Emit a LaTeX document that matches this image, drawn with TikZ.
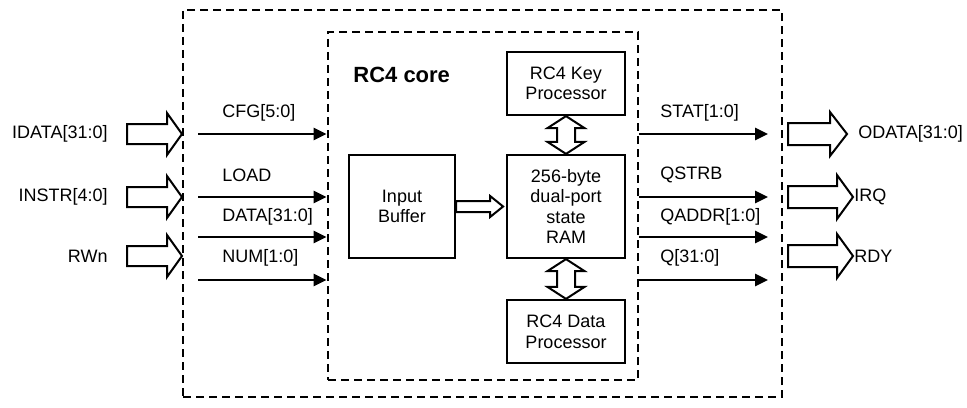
\documentclass[tikz,border=0pt]{standalone}
\usepackage{fontspec}
\setmainfont{Liberation Sans}
\usetikzlibrary{arrows.meta,calc}
% hollow horizontal bus arrow: #1 tail point, #2 length, #3 shaft half-width,
% #4 head half-width, #5 head length
\newcommand\drawbus[5]{%
  \draw[busline] ($#1+(0,-#3)$) -- ++(#2-#5,0) -- ++(0,#3-#4) -- ($#1+(#2,0)$)
    -- ($#1+(#2-#5,#4)$) -- ++(0,#3-#4) -- ($#1+(0,#3)$) -- cycle;}
% hollow vertical two-way bus between two points #1 (top) and #2 (bottom)
\newcommand\drawlink[2]{%
  \draw[busline] #1 -- ($#1+(-18.5,12)$) -- ($#1+(-9,12)$) -- ($#2+(-9,-12)$)
    -- ($#2+(-18.5,-12)$) -- #2 -- ($#2+(18.5,-12)$) -- ($#2+(9,-12)$)
    -- ($#1+(9,12)$) -- ($#1+(18.5,12)$) -- cycle;}
\begin{document}
\begin{tikzpicture}[x=0.5pt,y=-0.5pt,
  lbl/.style={font=\fontsize{9}{10}\selectfont, inner sep=0pt},
  blk/.style={draw, line width=1.1pt, inner sep=0pt, align=center,
              font=\fontsize{9}{10.3}\selectfont},
  frame/.style={draw, line width=1.4pt, dash pattern=on 4.2pt off 2.3pt, inner sep=0pt},
  sig/.style={line width=1.3pt, -{Triangle[length=6.5pt,width=6pt]}},
  busline/.style={line width=1pt, line join=miter}]
\useasboundingbox (0,0) rectangle (967,407);

% enclosing chip boundary and the core
\node[frame, minimum width=299.5pt, minimum height=193.5pt] (chip) at (482.5,203.5) {};
\node[frame, minimum width=155pt, minimum height=174pt] (core) at (483,206) {};
\node[font=\bfseries\fontsize{11}{12}\selectfont, anchor=west, inner sep=0pt] (corelbl) at (353,75) {RC4 core};

% blocks inside the core
\node[blk, minimum width=59pt, minimum height=31.5pt] (key) at (566,83.5) {RC4 Key\\Processor};
\node[blk, minimum width=59pt, minimum height=51.5pt] (ram) at (566,206.5) {256-byte\\dual-port\\state\\RAM};
\node[blk, minimum width=59pt, minimum height=31.5pt] (dat) at (566,331.5) {RC4 Data\\Processor};
\node[blk, minimum width=53pt, minimum height=51.5pt] (buf) at (402,206.5) {Input\\Buffer};

% wide data paths between blocks
\drawlink{(key.south)}{(ram.north)}
\drawlink{(ram.south)}{(dat.north)}
\drawbus{(buf.east)}{47}{5.5}{10.5}{13}

% external buses entering the chip
\coordinate (idata) at (127,134);
\coordinate (instr) at (127,197);
\coordinate (rwn) at (127,256);
\foreach \c in {idata,instr,rwn} {\drawbus{(\c)}{55}{10}{21}{15}}
\node[lbl, anchor=east] (lidata) at (108,134) {IDATA[31:0]};
\node[lbl, anchor=east] (linstr) at (108,197) {INSTR[4:0]};
\node[lbl, anchor=east] (lrwn) at (108,256) {RWn};

% external buses leaving the chip
\coordinate (odata) at (788,134);
\coordinate (irq) at (788,197);
\coordinate (rdy) at (788,256);
\drawbus{(odata)}{59}{11}{22}{17}
\drawbus{(irq)}{65}{11}{22}{16}
\drawbus{(rdy)}{65}{11}{22}{16}
\node[lbl, anchor=west] (lodata) at (858,134) {ODATA[31:0]};
\node[lbl, anchor=west] (lirq) at (854,197) {IRQ};
\node[lbl, anchor=west] (lrdy) at (854,256) {RDY};

% core inputs
\coordinate (i1) at (198,134);
\coordinate (i2) at (198,197);
\coordinate (i3) at (198,237);
\coordinate (i4) at (198,280);
\foreach \c in {i1,i2,i3,i4} \draw[sig] (\c) -- (core.west |- \c);
\node[lbl, anchor=west] (lcfg) at (222,113) {CFG[5:0]};
\node[lbl, anchor=west] (lload) at (222,175) {LOAD};
\node[lbl, anchor=west] (ldata) at (222,217) {DATA[31:0]};
\node[lbl, anchor=west] (lnum) at (222,258) {NUM[1:0]};

% core outputs
\coordinate (o1) at (768,134);
\coordinate (o2) at (768,197);
\coordinate (o3) at (768,237);
\coordinate (o4) at (768,280);
\foreach \c in {o1,o2,o3,o4} \draw[sig] (core.east |- \c) -- (\c);
\node[lbl, anchor=west] (lstat) at (660,113) {STAT[1:0]};
\node[lbl, anchor=west] (lqstrb) at (660,175) {QSTRB};
\node[lbl, anchor=west] (lqaddr) at (660,217) {QADDR[1:0]};
\node[lbl, anchor=west] (lq) at (660,258) {Q[31:0]};
\end{tikzpicture}
\end{document}
